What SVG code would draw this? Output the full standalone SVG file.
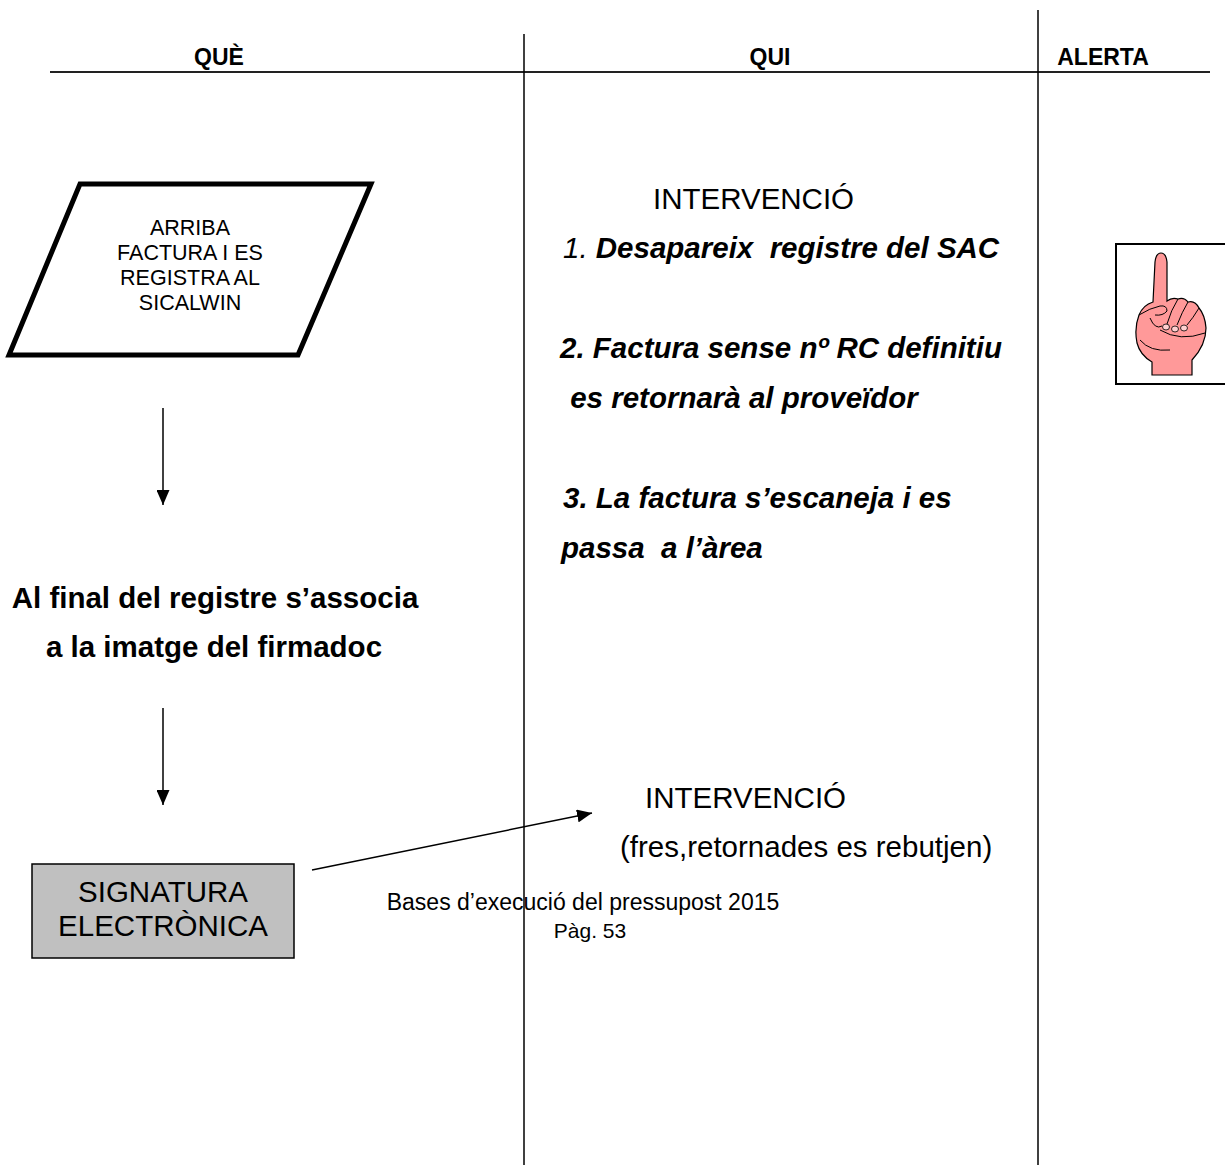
<svg xmlns="http://www.w3.org/2000/svg" width="1225" height="1165" viewBox="0 0 1225 1165">
<style>
text{font-family:"Liberation Sans",Arial,sans-serif;fill:#000}
.hdr{font-size:23px;font-weight:bold;text-anchor:middle}
.big{font-size:29.5px}
.bi{font-size:29.5px;font-weight:bold;font-style:italic}
.b{font-size:29.5px;font-weight:bold;text-anchor:middle}
.sm{font-size:21.5px;text-anchor:middle}
.mid{text-anchor:middle}
.ln{stroke:#000;stroke-width:1.5;fill:none}
</style>
<defs>
<marker id="ah" markerUnits="userSpaceOnUse" markerWidth="16" markerHeight="13" refX="15" refY="6.5" orient="auto">
<path d="M0,0 L15,6.5 L0,13 Z" fill="#000"/>
</marker>
</defs>
<rect width="1225" height="1165" fill="#fff"/>
<g id="grid">
<line x1="50" y1="72" x2="1210" y2="72" stroke="#222" stroke-width="2.2"/>
<line x1="524" y1="34" x2="524" y2="1165" class="ln"/>
<line x1="1038" y1="10" x2="1038" y2="1165" class="ln"/>
<text class="hdr" x="219" y="65">QUÈ</text>
<text class="hdr" x="770" y="65">QUI</text>
<text class="hdr" x="1103" y="65">ALERTA</text>
</g>
<g id="n-arriba">
<polygon points="80,184 371,184 298,355 9,355" fill="#fff" stroke="#000" stroke-width="5"/>
<text class="sm" x="190" y="235">ARRIBA</text>
<text class="sm" x="190" y="260">FACTURA I ES</text>
<text class="sm" x="190" y="285">REGISTRA AL</text>
<text class="sm" x="190" y="310">SICALWIN</text>
</g>
<g id="n-final">
<text class="b" x="215" y="608">Al final del registre s’associa</text>
<text class="b" x="214" y="657">a la imatge del firmadoc</text>
</g>
<g id="n-signatura">
<rect x="32" y="864" width="262" height="94" fill="#c0c0c0" stroke="#000" stroke-width="1.5"/>
<text class="big mid" x="163" y="902">SIGNATURA</text>
<text class="big mid" x="163" y="936">ELECTRÒNICA</text>
</g>
<g id="n-intervencio1">
<text class="big" x="653" y="209">INTERVENCIÓ</text>
<text x="563" y="258" class="big" font-style="italic" xml:space="preserve">1. <tspan font-weight="bold">Desapareix  registre del SAC</tspan></text>
<text class="bi" x="560" y="358">2. Factura sense nº RC definitiu</text>
<text class="bi" x="562" y="408" xml:space="preserve"> es retornarà al proveïdor</text>
<text class="bi" x="563" y="508">3. La factura s’escaneja i es</text>
<text class="bi" x="561" y="558" xml:space="preserve">passa  a l’àrea</text>
</g>
<g id="n-intervencio2">
<text class="big" x="645" y="808">INTERVENCIÓ</text>
<text class="big" x="620" y="857">(fres,retornades es rebutjen)</text>
</g>
<g id="n-footer">
<text x="583" y="910" class="mid" font-size="23">Bases d’execució del pressupost 2015</text>
<text x="590" y="938" class="mid" font-size="21">Pàg. 53</text>
</g>
<g id="n-alerta">
<rect x="1116" y="244" width="120" height="140" fill="#fff" stroke="#000" stroke-width="2"/>
<path d="M1152,375 L1152,362 Q1140,355 1137,343 Q1134,328 1139,315 Q1143,305 1153,302 L1155,262 Q1156,253 1161,253 Q1166,253 1167,262 L1167,301 Q1172,297 1178,299 Q1184,297 1188,302 Q1195,300 1199,308 Q1205,315 1206,328 Q1206,345 1192,360 L1192,375 Z" fill="#ff9999" stroke="#000" stroke-width="1.2"/>
<path d="M1139,315 Q1150,308 1160,306 Q1167,305 1167,311 Q1163,316 1155,315" fill="none" stroke="#000" stroke-width="1"/>
<path d="M1178,299 Q1171,310 1167,324 M1188,302 Q1182,312 1177,325 M1199,308 Q1193,318 1187,325 M1150,318 Q1155,330 1162,326 M1160,330 Q1180,342 1205,333 M1140,340 Q1150,352 1170,350" fill="none" stroke="#000" stroke-width="1"/>
<ellipse cx="1166" cy="327" rx="3.5" ry="3" fill="#ffd0d0" stroke="#000" stroke-width="0.8"/>
<ellipse cx="1175" cy="329" rx="3.5" ry="3" fill="#ffd0d0" stroke="#000" stroke-width="0.8"/>
<ellipse cx="1184" cy="328" rx="3.5" ry="3" fill="#ffd0d0" stroke="#000" stroke-width="0.8"/>
</g>
<g id="connectors">
<line x1="163" y1="408" x2="163" y2="505" class="ln" marker-end="url(#ah)"/>
<line x1="163" y1="708" x2="163" y2="805" class="ln" marker-end="url(#ah)"/>
<line x1="312" y1="870" x2="592" y2="813" class="ln" stroke-width="2" marker-end="url(#ah)"/>
</g>
</svg>
